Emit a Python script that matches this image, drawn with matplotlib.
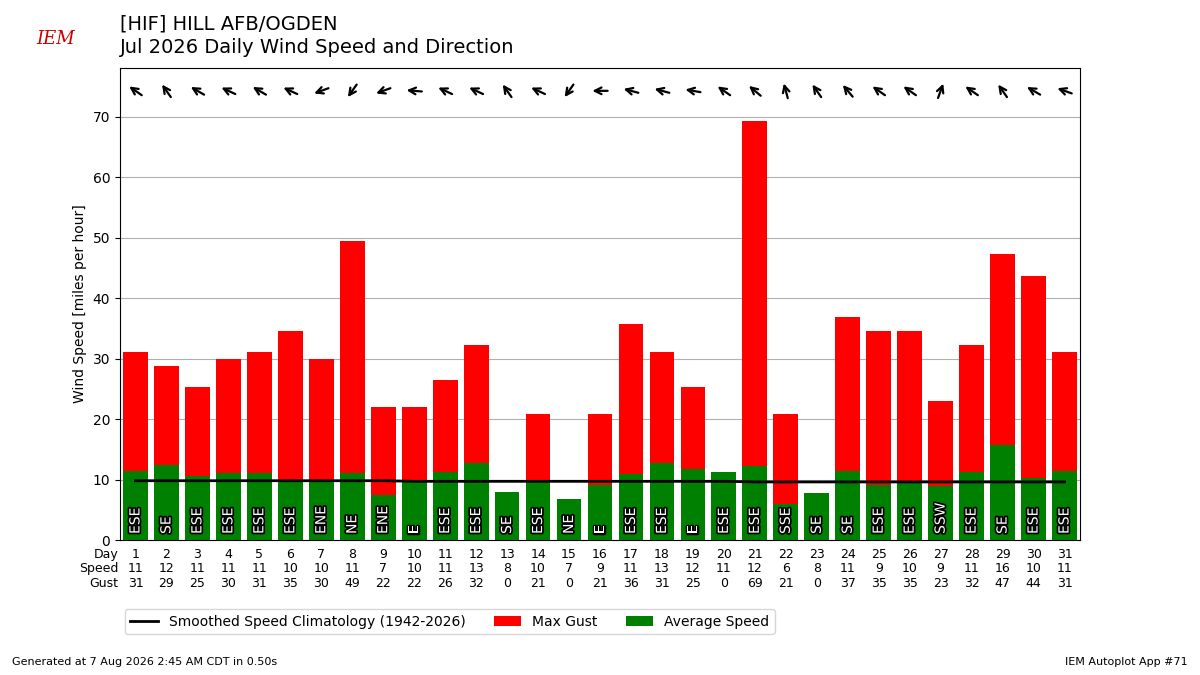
import matplotlib
matplotlib.use("Agg")
import matplotlib.pyplot as plt
import matplotlib.patheffects as pe
import matplotlib.transforms as mtrans
import numpy as np

days = list(range(1, 32))
avg_speed = [11.4,12.4,10.6,11.1,11.0,9.9,9.9,11.1,7.4,9.9,11.3,12.7,7.9,9.9,6.8,9.1,10.9,12.7,11.7,11.2,12.3,5.9,7.8,11.4,9.1,9.7,9.0,11.3,15.7,10.2,11.4]
max_gust = [31,28.7,25.3,30,31,34.5,30,49.5,22,22,26.5,32.2,0,20.8,0,20.8,35.7,31,25.3,0,69.2,20.8,0,36.8,34.5,34.5,23,32.2,47.2,43.7,31]
speed_lbl = [11,12,11,11,11,10,10,11,7,10,11,13,8,10,7,9,11,13,12,11,12,6,8,11,9,10,9,11,16,10,11]
gust_lbl = [31,29,25,30,31,35,30,49,22,22,26,32,0,21,0,21,36,31,25,0,69,21,0,37,35,35,23,32,47,44,31]
dir_txt = ["ESE","SE","ESE","ESE","ESE","ESE","ENE","NE","ENE","E","ESE","ESE","SE","ESE","NE","E","ESE","ESE","E","ESE","ESE","SSE","SE","SE","ESE","ESE","SSW","ESE","SE","ESE","ESE"]
dir_deg = [125,145,120,115,120,115,70,35,70,95,115,115,145,115,35,90,105,105,100,125,130,165,145,140,125,125,200,125,145,120,110]
clim = [9.8,9.8,9.8,9.8,9.8,9.8,9.8,9.8,9.8,9.7,9.7,9.7,9.7,9.7,9.7,9.7,9.7,9.7,9.7,9.7,9.6,9.6,9.6,9.6,9.6,9.6,9.6,9.6,9.6,9.6,9.6]

fig = plt.figure(figsize=(12, 6.75), dpi=100)
ax = fig.add_axes([0.1, 0.2, 0.8, 0.699])
ax.bar(days, max_gust, width=0.8, color="red", label="Max Gust", zorder=2)
ax.bar(days, avg_speed, width=0.8, color="green", label="Average Speed", zorder=3)
ax.plot(days, clim, color="black", lw=2, label="Smoothed Speed Climatology (1942-2026)", zorder=4)
ax.set_xlim(0.5, 31.5)
ax.set_ylim(0, 78)
ax.set_yticks(range(0, 71, 10))
ax.grid(axis="y", color="#b0b0b0", zorder=0)
ax.set_axisbelow(True)
ax.set_xticks([])
ax.set_ylabel("Wind Speed [miles per hour]")

for d, t in zip(days, dir_txt):
    ax.text(d, 1, t, rotation=90, ha="center", va="bottom", color="white", fontsize=10,
            zorder=5, path_effects=[pe.withStroke(linewidth=2.5, foreground="black")])

trans = ax.get_xaxis_transform()
L = 11.0
for d, deg in zip(days, dir_deg):
    a = np.deg2rad(deg + 180)
    dx, dy = L * np.sin(a), L * np.cos(a)
    tip = mtrans.offset_copy(trans, fig=fig, x=dx / 2, y=dy / 2, units="points")
    tail = mtrans.offset_copy(trans, fig=fig, x=-dx / 2, y=-dy / 2, units="points")
    ax.annotate("", xy=(d, 0.952), xycoords=tip, xytext=(d, 0.952), textcoords=tail,
                arrowprops=dict(arrowstyle="->", lw=1.6, color="black",
                                shrinkA=0, shrinkB=0, mutation_scale=12))

for lbl, yy in (("Day", -0.03), ("Speed", -0.061), ("Gust", -0.092)):
    ax.text(0.45, yy, lbl, transform=trans, ha="right", va="center", fontsize=9)
for d, s, g in zip(days, speed_lbl, gust_lbl):
    ax.text(d, -0.03, str(d), transform=trans, ha="center", va="center", fontsize=9)
    ax.text(d, -0.061, str(s), transform=trans, ha="center", va="center", fontsize=9)
    ax.text(d, -0.092, str(g), transform=trans, ha="center", va="center", fontsize=9)

h, l = ax.get_legend_handles_labels()
fig.legend(h, l, loc="center left", bbox_to_anchor=(0.098, 0.079), ncol=3, fontsize=10)

fig.text(0.1, 0.965, "[HIF] HILL AFB/OGDEN", fontsize=14, va="center")
fig.text(0.1, 0.93, "Jul 2026 Daily Wind Speed and Direction", fontsize=14, va="center")
fig.text(0.03, 0.935, "IEM", fontsize=13, color="#cc0000", style="italic", family="serif")
fig.text(0.01, 0.015, "Generated at 7 Aug 2026 2:45 AM CDT in 0.50s", fontsize=8)
fig.text(0.99, 0.015, "IEM Autoplot App #71", fontsize=8, ha="right")
fig.savefig("out.png", dpi=100)
